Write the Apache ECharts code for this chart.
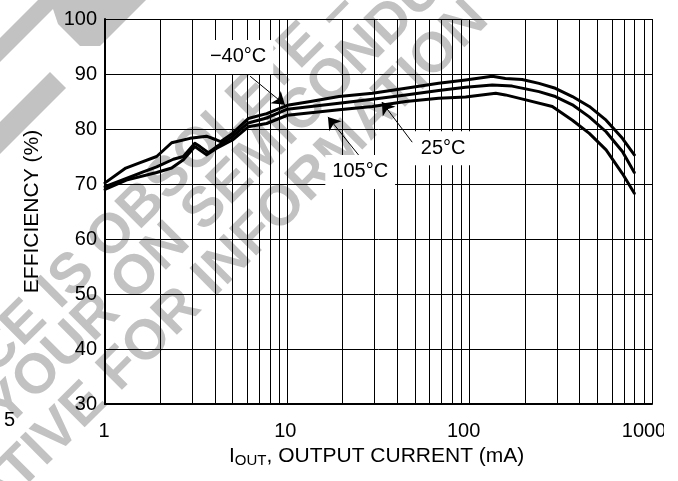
<!DOCTYPE html>
<html>
<head>
<meta charset="utf-8">
<script src="https://cdn.jsdelivr.net/npm/echarts/dist/echarts.min.js"></script>
<style>
  html, body { margin: 0; padding: 0; background: #fff; }
  #chart { width: 678px; height: 481px; }
</style>
</head>
<body>
<div id="chart"></div>
<script>
// Output current (mA) and efficiency (%) for each ambient temperature
const currentNeg40 = [1, 1.3, 1.56, 1.92, 2.32, 2.93, 3.6, 4.1, 4.3, 5.0, 6.1, 7.7, 10, 13.4, 19.2, 29.3, 44.6, 67.6, 95, 133, 157, 194, 240, 295, 366, 453, 560, 688, 800];
const effNeg40     = [70.2, 72.9, 73.9, 75.0, 77.5, 78.3, 78.7, 78.0, 77.7, 79.2, 81.9, 82.8, 84.3, 85.0, 85.9, 86.5, 87.4, 88.3, 88.9, 89.6, 89.2, 89.0, 88.3, 87.4, 85.9, 84.1, 81.6, 78.3, 75.3];

const current25 = [1, 1.31, 1.62, 1.92, 2.37, 2.69, 3.11, 3.32, 3.69, 4.1, 5.0, 6.1, 7.7, 10, 19.2, 29.3, 44.6, 67.6, 95, 133, 171, 240, 295, 366, 453, 560, 688, 800];
const eff25     = [69.5, 71.0, 72.2, 73.1, 74.5, 75.0, 77.4, 76.8, 75.7, 76.8, 78.6, 81.1, 82.0, 83.6, 84.7, 85.4, 86.2, 87.0, 87.6, 88.0, 87.8, 86.8, 85.9, 84.4, 82.2, 79.5, 75.9, 72.1];

const current105 = [1, 1.31, 1.92, 2.32, 2.69, 3.11, 3.61, 4.1, 5.0, 6.1, 7.7, 10, 19.2, 29.3, 44.6, 67.6, 95, 139, 157, 203, 284, 366, 453, 560, 688, 800];
const eff105     = [69.0, 70.7, 72.1, 72.9, 74.4, 76.8, 75.3, 76.5, 78.0, 80.4, 81.0, 82.5, 83.5, 84.1, 85.0, 85.6, 85.8, 86.5, 86.2, 85.3, 84.1, 81.6, 79.2, 76.2, 71.9, 68.3];

const seriesNames = ['\u221240\u00B0C', '25\u00B0C', '105\u00B0C'];

// Axis ranges and the log-decade subdivisions drawn as minor grid lines
const xMin = 1, xMax = 1000;
const yMin = 30, yMax = 100, yStep = 10;
const minorGridX = [2, 3, 4, 5, 6, 7, 8, 9, 20, 30, 40, 50, 60, 70, 80, 90, 200, 300, 400, 500, 600, 700, 800, 900];

// Callout labels: label anchor and arrow tail/tip, all in data units
const calloutNeg40 = { at: [5.37, 93.1], tail: [6.25, 89.6], tip: [9.7, 84.4] };
const callout25    = { at: [71.6, 76.5], tail: [48.4, 77.6], tip: [33.0, 84.9] };
const callout105   = { at: [25.1, 72.2], tail: [25.1, 74.9], tip: [16.7, 82.2] };

const FONT = '"Liberation Sans", Arial, Helvetica, sans-serif';
const pairs = (xs, ys) => xs.map((x, i) => [x, ys[i]]);

const chart = echarts.init(document.getElementById('chart'), null, { renderer: 'canvas' });

function curve(name, xs, ys, callout) {
  return {
    name: name,
    type: 'line',
    data: pairs(xs, ys),
    showSymbol: false,
    symbol: 'none',
    smooth: false,
    silent: true,
    z: 3,
    lineStyle: { color: '#000', width: 3, cap: 'round', join: 'round' },
    markLine: {
      silent: true,
      symbol: ['none', 'arrow'],
      symbolSize: 12,
      label: { show: false },
      lineStyle: { color: '#000', width: 1, type: 'solid' },
      data: [[{ coord: callout.tail }, { coord: callout.tip }]]
    },
    markPoint: {
      silent: true,
      symbol: 'rect',
      symbolSize: 0,
      data: [{
        coord: callout.at,
        label: {
          show: true,
          position: 'inside',
          formatter: name,
          color: '#000',
          fontSize: 20,
          fontFamily: FONT,
          backgroundColor: '#fff',
          padding: [7, 7, 7, 7]
        }
      }]
    }
  };
}

// Measure text to lay out the subscripted axis title and watermark
const measureCtx = document.createElement('canvas').getContext('2d');
function textWidth(str, size, weight) {
  measureCtx.font = (weight || 'normal') + ' ' + size + 'px ' + FONT;
  return measureCtx.measureText(str).width;
}

// Diagonal watermark lines
const wmAngle = 45 * Math.PI / 180;
const wmSize = 56;
const wmColor = '#c2c2c2';
const wmLines = [
  { text: 'THIS DEVICE IS OBSOLETE \u2013', prefix: 'THIS DEVICE IS ', anchor: [97, 251] },
  { text: 'CONTACT YOUR ON SEMICONDUCTOR', prefix: 'CONTACT YOUR ON ', anchor: [192, 222] },
  { text: 'REPRESENTATIVE FOR INFORMATION', prefix: 'REPRESENTATIVE FOR ', anchor: [203, 287] }
];
const ux = Math.cos(wmAngle), uy = -Math.sin(wmAngle);
const watermark = wmLines.map(l => {
  const off = textWidth(l.prefix, wmSize, 'bold');
  return {
    type: 'text',
    z: -10,
    silent: true,
    x: l.anchor[0] - off * ux,
    y: l.anchor[1] - off * uy,
    rotation: wmAngle,
    style: {
      text: l.text,
      font: 'bold ' + wmSize + 'px ' + FONT,
      fontSize: wmSize,
      fontWeight: 'bold',
      fontFamily: FONT,
      fill: wmColor,
      align: 'left',
      verticalAlign: 'middle'
    }
  };
});
const wmShapes = [
  [[0, 38], [38, 0], [62, 0], [0, 62]],
  [[50, 0], [146, 0], [100, 46], [80, 46], [58, 24]],
  [[0, 122], [50, 72], [66, 88], [0, 154]]
].map(pts => ({
  type: 'polygon', z: -10, silent: true,
  shape: { points: pts },
  style: { fill: wmColor }
}));

// X-axis title with subscript
const titleX0 = 229, titleY = 456;
const wI = textWidth('I', 21);
const wOut = textWidth('OUT', 15);
const xTitle = [
  { type: 'text', z: 20, silent: true, x: titleX0, y: titleY,
    style: { text: 'I', font: '21px ' + FONT, fontSize: 21, fontFamily: FONT, fill: '#000', align: 'left', verticalAlign: 'middle' } },
  { type: 'text', z: 20, silent: true, x: titleX0 + wI, y: titleY + 5,
    style: { text: 'OUT', font: '15px ' + FONT, fontSize: 15, fontFamily: FONT, fill: '#000', align: 'left', verticalAlign: 'middle' } },
  { type: 'text', z: 20, silent: true, x: titleX0 + wI + wOut, y: titleY,
    style: { text: ', OUTPUT CURRENT (mA)', font: '21px ' + FONT, fontSize: 21, fontFamily: FONT, fill: '#000', align: 'left', verticalAlign: 'middle' } }
];

// Tick labels sit slightly left of their grid line, more so for longer numbers
const xLabelShift = { 1: 2, 10: 4, 100: 12, 1000: 16 };

const option = {
  backgroundColor: '#fff',
  animation: false,
  grid: { left: 105, right: 26, top: 19, bottom: 77, containLabel: false, outerBoundsMode: 'none' },
  xAxis: {
    type: 'log',
    logBase: 10,
    min: xMin,
    max: xMax,
    axisLine: { show: true, lineStyle: { color: '#000', width: 2 } },
    axisTick: { show: false },
    axisLabel: {
      color: '#000', fontSize: 20, fontFamily: FONT, margin: 17,
      formatter: v => {
        const n = Math.round(v);
        return '{s' + n + '|' + n + '}';
      },
      rich: Object.fromEntries(Object.keys(xLabelShift).map(k => [
        's' + k,
        { color: '#000', fontSize: 20, fontFamily: FONT, padding: [0, xLabelShift[k], 0, 0] }
      ]))
    },
    splitLine: { show: true, lineStyle: { color: '#000', width: 1 } },
    minorTick: { show: false },
    minorSplitLine: { show: false }
  },
  yAxis: {
    type: 'value',
    min: yMin,
    max: yMax,
    interval: yStep,
    name: 'EFFICIENCY (%)',
    nameLocation: 'middle',
    nameRotate: 90,
    nameGap: 62,
    nameTextStyle: { color: '#000', fontSize: 21, fontFamily: FONT },
    axisLine: { show: true, lineStyle: { color: '#000', width: 2 } },
    axisTick: { show: false },
    axisLabel: { color: '#000', fontSize: 20, fontFamily: FONT, margin: 8 },
    splitLine: { show: true, lineStyle: { color: '#000', width: 1 } }
  },
  series: [
    {
      name: 'minor grid',
      type: 'custom',
      coordinateSystem: 'cartesian2d',
      silent: true,
      z: 1,
      data: minorGridX.map(v => [v, yMin]),
      encode: { x: 0, y: 1 },
      renderItem: function (params, api) {
        const v = api.value(0);
        const p0 = api.coord([v, yMin]);
        const p1 = api.coord([v, yMax]);
        const x = Math.round(p0[0]) + 0.5;
        return {
          type: 'line',
          shape: { x1: x, y1: p0[1], x2: x, y2: p1[1] },
          style: { stroke: '#000', lineWidth: 1 }
        };
      }
    },
    curve(seriesNames[0], currentNeg40, effNeg40, calloutNeg40),
    curve(seriesNames[1], current25, eff25, callout25),
    curve(seriesNames[2], current105, eff105, callout105)
  ],
  graphic: {
    elements: [].concat(watermark, wmShapes, xTitle, [
      { type: 'text', z: 20, silent: true, x: 4, y: 420,
        style: { text: '5', font: '20px ' + FONT, fontSize: 20, fontFamily: FONT, fill: '#000', align: 'left', verticalAlign: 'middle' } },
      { type: 'rect', z: 100, silent: true, shape: { x: 664, y: 412, width: 14, height: 40 }, style: { fill: '#fff' } }
    ])
  }
};

chart.setOption(option);
</script>
</body>
</html>
